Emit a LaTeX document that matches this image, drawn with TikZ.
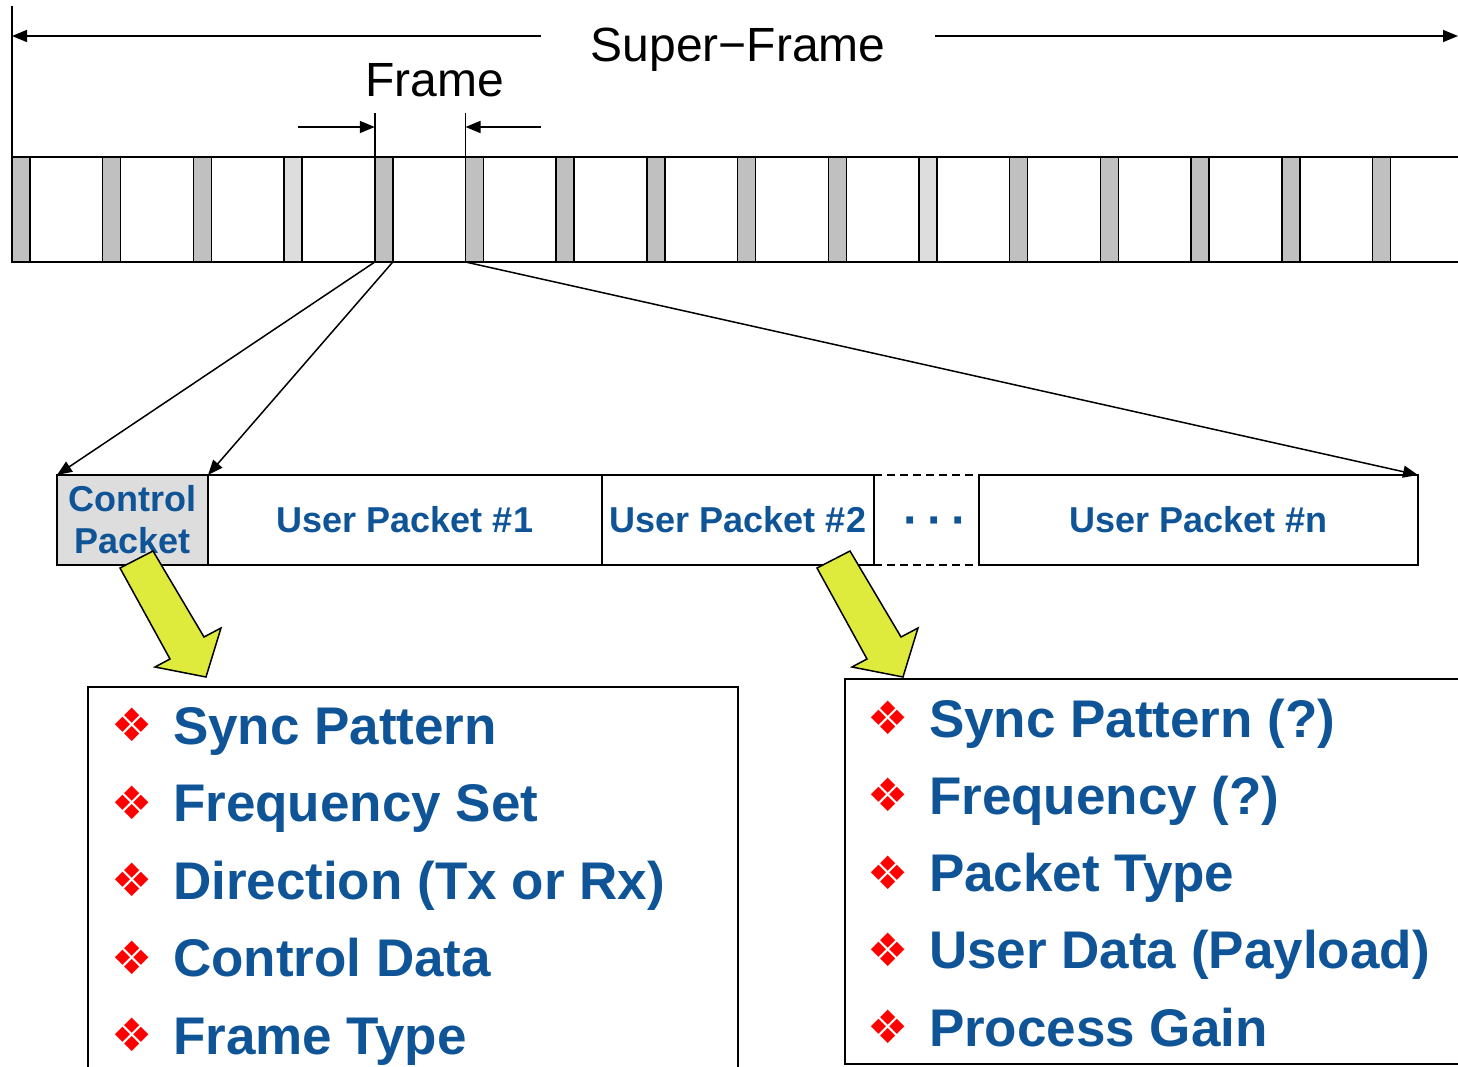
\documentclass[tikz,border=0pt]{standalone}
\usepackage{fontspec}
\setmainfont{Liberation Sans}
\newfontfamily\symfont{DejaVu Sans}
\usetikzlibrary{positioning,arrows.meta}

\definecolor{pktblue}{RGB}{14,84,150}
\definecolor{slotgray}{RGB}{192,192,192}
\definecolor{slotlight}{RGB}{221,221,221}
\definecolor{hiyellow}{RGB}{222,234,60}

\begin{document}
\begin{tikzpicture}[x=1pt, y=-1pt, line width=1.5pt,
  every node/.style={inner sep=0pt, outer sep=0pt},
  slot/.style={draw, minimum width=18pt, minimum height=105pt, anchor=north west},
  pkt/.style={draw, minimum height=90pt, text=pktblue, align=center,
    font=\bfseries\fontsize{36}{42}\selectfont},
  item/.style={anchor=base west, text=pktblue, font=\bfseries\fontsize{53}{60}\selectfont},
  bul/.style={text=red, font=\symfont\fontsize{46}{46}\selectfont},
  lbl/.style={font=\fontsize{48}{50}\selectfont},
  tip/.style={-{Triangle[length=15pt,width=12pt]}},
  gapline/.style={dash pattern=on 8pt off 5pt},
  fat/.style={draw, fill=hiyellow, line join=miter}]
\useasboundingbox (0,0) rectangle (1458,1067);

% Super-Frame
\node[lbl] (sf) at (738,50) {Super−Frame};
\coordinate (sfL) at (12,36);
\coordinate (sfA) at (541,36);
\coordinate (sfB) at (935,36);
\coordinate (sfR) at (1458,36);
\draw[tip] (sfA) -- (sfL);
\draw[tip] (sfB) -- (sfR);
\draw (12,6) -- (12,157);

% Slots
\draw (12,157) -- (1458,157);
\draw (12,262) -- (1458,262);
\foreach \i in {0,...,15} {
  \pgfmathsetmacro\xx{12+90.7*\i}
  \ifnum\i=3 \def\c{slotlight}\else\ifnum\i=10 \def\c{slotlight}\else\def\c{slotgray}\fi\fi
  \node[slot, fill=\c] (slot\i) at (\xx,157) {};
}

% Frame
\node[lbl] (frame) at (435,80) {Frame};
\coordinate (fA) at (298,127);
\coordinate (fB) at (541,127);
\draw (slot4.north west) -- ++(0,-44);
\draw (slot5.north west) -- ++(0,-44);
\draw[tip] (fA) -- (fA -| slot4.north west);
\draw[tip] (fB) -- (fB -| slot5.north west);

% Packets
\node[pkt, fill=slotlight, minimum width=151pt, anchor=west] (ctrl) at (57,520) {Control\\Packet};
\node[pkt, minimum width=394pt, right=0pt of ctrl] (up1) {User Packet \#1};
\node[pkt, minimum width=272pt, right=0pt of up1] (up2) {User Packet \#2};
\node[minimum width=105pt, minimum height=90pt, right=0pt of up2] (gap) {};
\node[text=pktblue, font=\bfseries\fontsize{48}{48}\selectfont, xshift=9pt, yshift=-7pt] (dots) at (gap) {·\,·\,·};
\node[pkt, minimum width=439pt, right=0pt of gap] (upn) {User Packet \#n};
\draw[gapline] (gap.north west) -- (gap.north east);
\draw[gapline] (gap.south west) -- (gap.south east);

% Expansion
\draw[tip] (slot4.south west) -- (ctrl.north west);
\draw[tip] (slot4.south east) -- (up1.north west);
\draw[tip] (slot5.south west) -- (upn.north east);

% Yellow arrows
\draw[fat] (120,568) -- (153,551) -- (204,637) -- (221,628) -- (206,677) -- (155,667) -- (170,659) -- cycle;
\draw[fat, xshift=697pt] (120,568) -- (153,551) -- (204,637) -- (221,628) -- (206,677) -- (155,667) -- (170,659) -- cycle;

% Lists
\node[draw, minimum width=650pt, minimum height=420pt, anchor=north west] (ctrlbox) at (88,687) {};
\node[draw, minimum width=640pt, minimum height=385pt, anchor=north west] (userbox) at (845,679) {};

\foreach \t [count=\i] in {Sync Pattern, Frequency Set, {Direction (Tx or Rx)}, Control Data, Frame Type} {
  \pgfmathsetmacro\yy{744+77.5*(\i-1)}
  \node[bul] (cb\i) at (132,\yy-19) {❖};
  \node[item] (ct\i) at (173,\yy) {\t};
}
\foreach \t [count=\i] in {Sync Pattern (?), Frequency (?), Packet Type, User Data (Payload), Process Gain} {
  \pgfmathsetmacro\yy{737+77.25*(\i-1)}
  \node[bul] (ub\i) at (888,\yy-19) {❖};
  \node[item] (ut\i) at (929,\yy) {\t};
}
\end{tikzpicture}
\end{document}
